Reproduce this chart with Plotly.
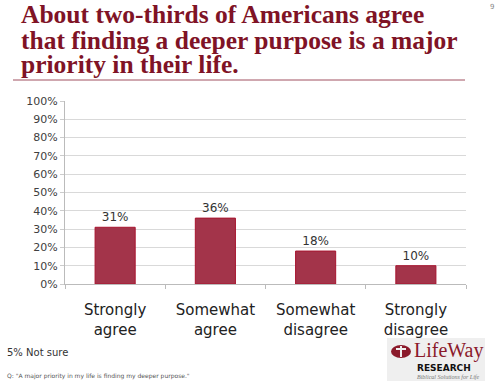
import plotly.graph_objects as go

categories = ["Strongly<br>agree", "Somewhat<br>agree", "Somewhat<br>disagree", "Strongly<br>disagree"]
values = [31, 36, 18, 10]
tick_vals = [0, 10, 20, 30, 40, 50, 60, 70, 80, 90, 100]
tick_text = [f"{v}%" for v in tick_vals]
title_lines = [
    "About two-thirds of Americans agree",
    "that finding a deeper purpose is a major",
    "priority in their life.",
]
note_text = "5% Not sure"
question_text = 'Q: "A major priority in my life is finding my deeper purpose."'

W, H = 500, 385
L, R, T, B = 65, 34, 101, 101
PH = H - T - B
PW = W - L - R

def px(x):
    return (x - L) / PW

def py(y):
    return (H - B - y) / PH

SERIF = "Liberation Serif, Times New Roman, Times, serif"
TITLE_COLOR = "#7F1326"

fig = go.Figure(go.Bar(
    x=categories, y=values,
    marker=dict(color="#A3344A", line=dict(color="#A8142F", width=1)),
    text=[f"{v}%" for v in values], textposition="outside",
    textfont=dict(family="DejaVu Sans", size=12, color="#333333"),
    cliponaxis=False, hoverinfo="skip",
))

annotations = []
title_y = [15, 40, 64]
for line, yy in zip(title_lines, title_y):
    annotations.append(dict(
        text=f"<b>{line}</b>", x=px(19), y=py(yy), xref="paper", yref="paper",
        xanchor="left", yanchor="middle", showarrow=False,
        font=dict(family=SERIF, size=25.5, color=TITLE_COLOR),
    ))
annotations += [
    dict(text="9", x=px(492), y=py(7), xref="paper", yref="paper", xanchor="center",
         yanchor="middle", showarrow=False, font=dict(family="DejaVu Sans", size=7, color="#888888")),
    dict(text=note_text, x=px(5), y=py(352), xref="paper", yref="paper", xanchor="left",
         yanchor="middle", showarrow=False, font=dict(family="DejaVu Sans", size=10, color="#333333")),
    dict(text=question_text, x=px(5), y=py(376), xref="paper", yref="paper", xanchor="left",
         yanchor="middle", showarrow=False, font=dict(family="DejaVu Sans", size=6, color="#555555")),
    dict(text="LifeWay", x=px(448), y=py(350), xref="paper", yref="paper", xanchor="center",
         yanchor="middle", showarrow=False, font=dict(family=SERIF, size=20, color="#8B1A2B")),
    dict(text="<b>RESEARCH</b>", x=px(444), y=py(368), xref="paper", yref="paper", xanchor="center",
         yanchor="middle", showarrow=False, font=dict(family="DejaVu Sans", size=9, color="#111111")),
    dict(text="<i>Biblical Solutions for Life</i>", x=px(448), y=py(377), xref="paper", yref="paper",
         xanchor="center", yanchor="middle", showarrow=False,
         font=dict(family=SERIF, size=6, color="#777777")),
]

shapes = [
    dict(type="line", xref="paper", yref="paper", x0=px(13), x1=px(465), y0=py(80), y1=py(80),
         line=dict(color="#A05060", width=1)),
    dict(type="rect", xref="paper", yref="paper", x0=px(387), x1=px(485), y0=py(381), y1=py(338),
         fillcolor="#EFEFEF", line=dict(width=0), layer="below"),
    dict(type="circle", xref="paper", yref="paper", x0=px(391), x1=px(411), y0=py(358), y1=py(345),
         fillcolor="#8B1A2B", line=dict(width=0)),
    dict(type="line", xref="paper", yref="paper", x0=px(401), x1=px(401), y0=py(357), y1=py(346),
         line=dict(color="#EFEFEF", width=2)),
    dict(type="line", xref="paper", yref="paper", x0=px(396), x1=px(406), y0=py(349), y1=py(349),
         line=dict(color="#EFEFEF", width=2)),
]

fig.update_layout(
    width=W, height=H, margin=dict(l=L, r=R, t=T, b=B, pad=0),
    paper_bgcolor="white", plot_bgcolor="white", showlegend=False,
    bargap=0.6, hovermode=False,
    xaxis=dict(type="category", tickson="boundaries", ticks="outside", ticklen=4,
               tickcolor="#BBBBBB", showline=True, linecolor="#BBBBBB", linewidth=1,
               showgrid=False, ticklabelstandoff=12,
               tickfont=dict(family="DejaVu Sans", size=15, color="#222222")),
    yaxis=dict(range=[0, 100], tickmode="array", tickvals=tick_vals, ticktext=tick_text,
               ticks="outside", ticklen=4,
               tickcolor="#CCCCCC", showline=True, linecolor="#BBBBBB", linewidth=1,
               showgrid=True, gridcolor="#D9D9D9", gridwidth=1, zeroline=False,
               tickfont=dict(family="DejaVu Sans", size=11, color="#404040")),
    annotations=annotations, shapes=shapes,
)

fig.write_html("out.html", config={"displayModeBar": False},
               post_script="document.body.style.margin='0';document.body.style.overflow='hidden';")
